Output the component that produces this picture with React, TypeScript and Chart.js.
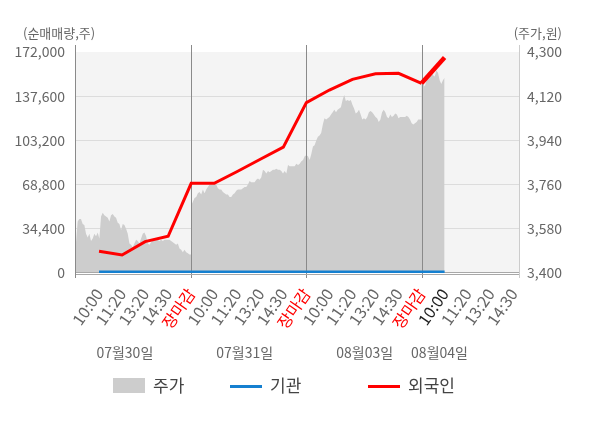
import React, { useEffect, useRef } from 'react';
import { Chart, registerables } from 'chart.js';

Chart.register(...registerables);

const FONT = "'Noto Sans CJK KR', 'Noto Sans', sans-serif";

// x-axis tick labels (one per tick unit, starting at unit 1)
const xLabels = [
  '10:00', '11:20', '13:20', '14:30', '장마감',
  '10:00', '11:20', '13:20', '14:30', '장마감',
  '10:00', '11:20', '13:20', '14:30', '장마감',
  '10:00', '11:20', '13:20', '14:30',
];
const closeLabel = '장마감';
const currentTick = 16;

const dateLabels = ['07월30일', '07월31일', '08월03일', '08월04일'];

const leftTicks = [0, 34400, 68800, 103200, 137600, 172000];
const rightTicks = [3400, 3580, 3760, 3940, 4120, 4300];

// tick unit at which each session's price data ends
const sessionEndTick = [5, 10, 15, 16];

// 주가 (intraday price) per session
const priceDay1 = [
  3525, 3610, 3620, 3620, 3600, 3595, 3560, 3545, 3560, 3530,
  3540, 3560, 3550, 3565, 3540, 3630, 3645, 3635, 3630, 3625,
  3610, 3635, 3640, 3630, 3625, 3605, 3600, 3575, 3600, 3595,
  3580, 3560, 3520, 3515, 3505, 3520, 3535, 3530, 3520, 3540,
  3560, 3565, 3550, 3520, 3515, 3525, 3535, 3535, 3540, 3535,
  3530, 3535, 3530, 3535, 3535, 3535, 3535, 3530, 3525, 3520,
  3515, 3520, 3500, 3495, 3485, 3495, 3485, 3480, 3475, 3475,
];
const priceDay2 = [
  3675, 3690, 3705, 3710, 3725, 3730, 3720, 3740, 3725, 3740,
  3750, 3760, 3765, 3760, 3765, 3760, 3745, 3740, 3740, 3730,
  3725, 3720, 3720, 3710, 3710, 3720, 3725, 3735, 3740, 3740,
  3740, 3745, 3750, 3750, 3760, 3775, 3770, 3770, 3770, 3780,
  3785, 3780, 3790, 3820, 3815, 3805, 3815, 3810, 3815, 3820,
  3820, 3825, 3820, 3820, 3815, 3805, 3815, 3805, 3840, 3835,
  3835, 3835, 3835, 3845, 3840, 3845, 3855, 3860, 3875, 3880,
];
const priceDay3 = [
  3880, 3875, 3860, 3885, 3915, 3920, 3940, 3955, 3960, 3970,
  4005, 4030, 4025, 4030, 4035, 4045, 4055, 4065, 4055, 4065,
  4070, 4075, 4105, 4125, 4100, 4105, 4100, 4105, 4085, 4070,
  4050, 4055, 4065, 4045, 4025, 4030, 4025, 4035, 4055, 4060,
  4055, 4045, 4035, 4030, 4015, 4025, 4055, 4065, 4055, 4035,
  4030, 4045, 4035, 4040, 4050, 4045, 4030, 4035, 4035, 4035,
  4035, 4040, 4035, 4025, 4010, 4005, 4010, 4015, 4025, 4025,
  4025,
];
const priceDay4 = [
  4185, 4170, 4160, 4185, 4220, 4200, 4215, 4205, 4200, 4225,
  4215, 4185, 4170, 4185, 4195,
];

// 외국인 / 기관 cumulative net buying (shares), one per tick from unit 1
const foreignNet = [
  16900, 14000, 24400, 28600, 69800,
  69800, 79000, 88500, 98000, 132600,
  142400, 150700, 155100, 155400, 147600,
  167800,
];
const institutionNet = [
  700, 700, 700, 700, 700,
  700, 700, 700, 700, 700,
  700, 700, 700, 700, 700,
  700,
];

const dateLabelTick = [2.12, 7.32, 12.53, 15.78];
const legendX = [113, 230, 368];

export default function App() {
  const ref = useRef<HTMLCanvasElement | null>(null);

  useEffect(() => {
    document.body.style.margin = '0';
    if (!ref.current) return;

    const sessions = [priceDay1, priceDay2, priceDay3, priceDay4];
    const pricePoints: { x: number; y: number }[] = [];
    sessions.forEach((arr, d) => {
      const start = d === 0 ? 0 : sessionEndTick[d - 1];
      const end = sessionEndTick[d];
      arr.forEach((v, i) => {
        pricePoints.push({ x: start + (i * (end - start)) / (arr.length - 1), y: v });
      });
    });
    const foreignPoints = foreignNet.map((v, i) => ({ x: i + 1, y: v }));
    const instPoints = institutionNet.map((v, i) => ({ x: i + 1, y: v }));

    const decor = {
      id: 'decor',
      beforeDraw(chart: any) {
        const { ctx, chartArea: a } = chart;
        ctx.save();
        ctx.fillStyle = '#f4f4f4';
        ctx.fillRect(a.left, a.top, a.right - a.left, a.bottom - a.top);
        ctx.restore();
      },
      afterDatasetDraw(chart: any, args: any) {
        if (args.index !== 0) return;
        const { ctx, chartArea: a, scales } = chart;
        ctx.save();
        ctx.lineWidth = 1;
        const vline = (px: number, color: string) => {
          ctx.strokeStyle = color;
          ctx.beginPath();
          ctx.moveTo(px, a.top - 7);
          ctx.lineTo(px, a.bottom + 5);
          ctx.stroke();
        };
        sessionEndTick.slice(0, -1).forEach((t) => {
          vline(Math.round(scales.x.getPixelForValue(t)) + 0.5, '#8a8a8a');
        });
        vline(a.left - 0.5, '#8a8a8a');
        vline(a.right + 0.5, '#cccccc');
        ctx.strokeStyle = '#a8a8a8';
        ctx.beginPath();
        ctx.moveTo(a.left, a.bottom - 0.5);
        ctx.lineTo(a.right, a.bottom - 0.5);
        ctx.moveTo(a.left, a.bottom + 1.5);
        ctx.lineTo(a.right, a.bottom + 1.5);
        ctx.stroke();
        ctx.restore();
      },
      afterDraw(chart: any) {
        const { ctx, scales } = chart;
        ctx.save();
        ctx.textBaseline = 'middle';
        ctx.fillStyle = '#666';
        ctx.font = `13px ${FONT}`;
        ctx.textAlign = 'left';
        ctx.fillText('(순매매량,주)', 23, 33);
        ctx.textAlign = 'right';
        ctx.fillText('(주가,원)', 562, 33);

        ctx.font = `14px ${FONT}`;
        ctx.textAlign = 'center';
        dateLabels.forEach((t, i) => {
          ctx.fillText(t, scales.x.getPixelForValue(dateLabelTick[i]), 353);
        });

        const ds = chart.data.datasets;
        ctx.font = `17px ${FONT}`;
        ctx.textAlign = 'left';
        ds.forEach((d: any, i: number) => {
          const lx = legendX[i];
          if (d.fill) {
            ctx.fillStyle = d.backgroundColor;
            ctx.fillRect(lx, 378, 32, 15);
          } else {
            ctx.fillStyle = d.borderColor;
            ctx.fillRect(lx, 385, 32, 3);
          }
          ctx.fillStyle = '#444';
          ctx.fillText(d.label, lx + 40, 386);
        });
        ctx.restore();
      },
    };

    const chart = new Chart(ref.current, {
      type: 'line',
      data: {
        datasets: [
          {
            label: '주가',
            data: pricePoints,
            yAxisID: 'yR',
            fill: 'start',
            backgroundColor: '#cdcdcd',
            borderWidth: 0,
            pointRadius: 0,
            order: 3,
          },
          {
            label: '기관',
            data: instPoints,
            yAxisID: 'yL',
            fill: false,
            borderColor: '#1580d0',
            borderWidth: 3,
            pointRadius: 0,
            order: 2,
          },
          {
            label: '외국인',
            data: foreignPoints,
            yAxisID: 'yL',
            fill: false,
            borderColor: '#ff0000',
            borderWidth: 3,
            pointRadius: 0,
            order: 1,
            segment: {
              borderWidth: (c: any) => (c.p0DataIndex >= foreignNet.length - 2 ? 4.5 : 3),
            },
          } as any,
        ],
      },
      options: {
        animation: false,
        responsive: true,
        maintainAspectRatio: false,
        layout: { padding: { top: 52, left: 0, right: 0, bottom: 0 } },
        plugins: {
          legend: { display: false },
          tooltip: { enabled: false },
        },
        events: [],
        scales: {
          x: {
            type: 'linear',
            min: 0,
            max: 19.23,
            afterBuildTicks: (s: any) => {
              s.ticks = xLabels.map((_, i) => ({ value: i + 1 }));
            },
            afterFit: (s: any) => {
              s.height = 155;
            },
            grid: { display: true, color: 'rgba(0,0,0,0)', drawOnChartArea: false, tickLength: 5 },
            border: { display: false },
            ticks: {
              autoSkip: false,
              maxRotation: 55,
              minRotation: 55,
              padding: 7,
              font: { family: FONT, size: 16 },
              color: (c: any) => {
                const lbl = xLabels[c.index];
                if (lbl === closeLabel) return '#ff0000';
                if (c.index + 1 === currentTick) return '#222';
                return '#666';
              },
              callback: (_v: any, i: number) => xLabels[i],
            },
          },
          yL: {
            type: 'linear',
            position: 'left',
            min: leftTicks[0],
            max: leftTicks[leftTicks.length - 1],
            afterBuildTicks: (s: any) => {
              s.ticks = leftTicks.map((v) => ({ value: v }));
            },
            afterFit: (s: any) => {
              s.width = 76;
            },
            grid: {
              drawTicks: false,
              color: (c: any) =>
                c.tick && (c.tick.value === leftTicks[0] || c.tick.value === leftTicks[leftTicks.length - 1])
                  ? 'rgba(0,0,0,0)'
                  : '#dcdcdc',
            },
            border: { display: false },
            ticks: {
              padding: 11,
              font: { family: FONT, size: 14 },
              color: '#666',
              callback: (v: any) => Number(v).toLocaleString('en-US'),
            },
          },
          yR: {
            type: 'linear',
            position: 'right',
            min: rightTicks[0],
            max: rightTicks[rightTicks.length - 1],
            afterBuildTicks: (s: any) => {
              s.ticks = rightTicks.map((v) => ({ value: v }));
            },
            afterFit: (s: any) => {
              s.width = 81;
            },
            grid: { display: false, drawTicks: false },
            border: { display: false },
            ticks: {
              padding: 8,
              font: { family: FONT, size: 14 },
              color: '#666',
              callback: (v: any) => Number(v).toLocaleString('en-US'),
            },
          },
        },
      },
      plugins: [decor],
    });

    return () => {
      chart.destroy();
    };
  }, []);

  return (
    <div style={{ position: 'relative', width: 600, height: 428 }}>
      <canvas ref={ref} />
    </div>
  );
}
